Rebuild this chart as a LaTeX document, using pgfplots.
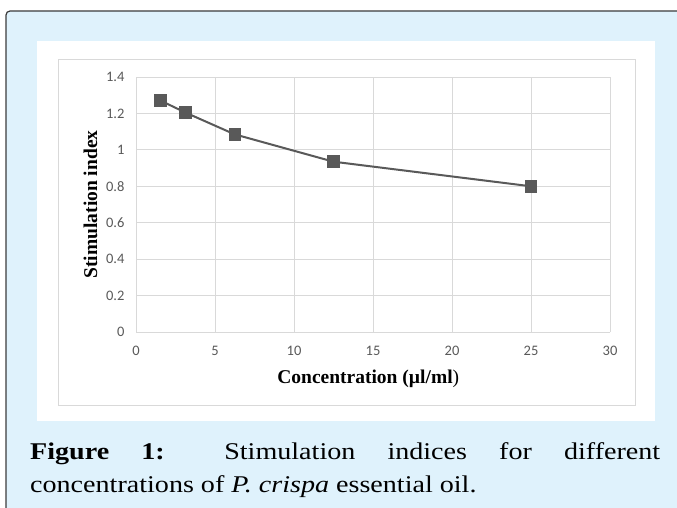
\documentclass[border=0pt]{standalone}
\usepackage{fontspec}
\setmainfont{Liberation Serif}
\newfontfamily\carlito{Carlito}
\newfontfamily\capfont[FakeStretch=1.17]{Liberation Serif}
\usepackage{pgfplots}
\pgfplotsset{compat=1.18}
\definecolor{boxblue}{RGB}{223,242,252}
\definecolor{boxedge}{RGB}{60,60,60}
\definecolor{series}{RGB}{89,89,89}
\definecolor{gridc}{RGB}{217,217,217}
\definecolor{tickc}{RGB}{89,89,89}
\newcommand\ticktext[1]{\mbox{\carlito\fontsize{14.5}{14.5}\selectfont\pgfmathprintnumber{#1}}}

\begin{document}
\begin{tikzpicture}
\path[use as bounding box] (0,0) rectangle (677pt,-508pt);
\begin{scope}
  \clip (0,0) rectangle (677pt,-508pt);
  \draw[fill=boxblue, draw=boxedge, line width=1.2pt, rounded corners=4pt]
    (6pt,-11pt) rectangle (700pt,-530pt);
\end{scope}
\fill[white] (37pt,-41pt) rectangle (655pt,-421pt);
\draw[gridc, line width=1pt] (58pt,-60pt) rectangle (635pt,-405pt);

\begin{axis}[
  at={(136pt,-332pt)}, anchor=south west,
  scale only axis, width=474pt, height=255pt,
  xmin=0, xmax=30, ymin=0, ymax=1.4,
  xtick={0,5,...,30},
  ytick={0,0.2,0.4,0.6,0.8,1,1.2,1.4},
  grid=major, major grid style={gridc, line width=1pt},
  axis line style={draw=none}, major tick length=0pt,
  /pgf/number format/assume math mode=true,
  xticklabel={\ticktext{\tick}},
  yticklabel={\ticktext{\tick}},
  tick label style={text=tickc},
  yticklabel style={anchor=east, xshift=-8pt},
  xticklabel style={anchor=north, yshift=-11pt},
  xlabel={\textbf{Concentration (µl/ml})},
  xlabel style={at={(axis description cs:0.49,-0.2)}, anchor=base,
    font=\fontsize{19.5}{19.5}\selectfont},
  ylabel={\textbf{Stimulation index}},
  ylabel style={at={(axis description cs:-0.096,0.5)}, anchor=center,
    font=\fontsize{19.5}{19.5}\selectfont},
]
\addplot[series, line width=2pt, mark=square*, mark size=5.25pt,
  mark options={fill=series, draw=series}] coordinates {
  (1.5625,1.27) (3.125,1.205) (6.25,1.085) (12.5,0.935) (25,0.80)
};
\end{axis}

\node[anchor=base west, inner sep=0, font=\capfont\fontsize{24}{24}\selectfont]
  at (30pt,-459pt) {\makebox[630pt][s]{\textbf{Figure 1:} Stimulation indices for different}};
\node[anchor=base west, inner sep=0, font=\capfont\fontsize{24}{24}\selectfont]
  at (30pt,-492pt) {concentrations of \textit{P. crispa} essential oil.};
\end{tikzpicture}
\end{document}
